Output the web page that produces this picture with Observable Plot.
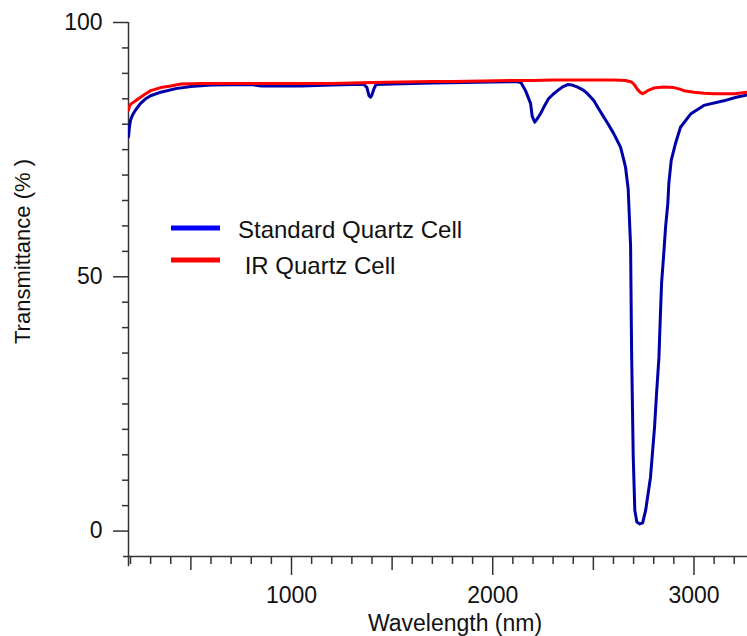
<!DOCTYPE html>
<html><head><meta charset="utf-8">
<script src="https://cdn.jsdelivr.net/npm/d3@7"></script>
<script src="https://cdn.jsdelivr.net/npm/@observablehq/plot@0.6"></script>
<style>
body{margin:0;background:#fff;}
#chart{position:relative;width:747px;height:636px;overflow:hidden;}
</style></head><body><div id="chart"></div>
<script>
// Standard Quartz Cell
const stdWavelength = [190,193,196,200,210,225,250,275,300,350,425,500,600,800,850,1050,1200,1300,1360,1375,1385,1393,1400,1410,1420,1500,1700,2000,2120,2140,2163,2188,2196,2209,2220,2238,2257,2277,2300,2322,2350,2372,2395,2422,2450,2471,2503,2521,2552,2571,2602,2635,2650,2660,2673,2685,2690,2698,2706,2716,2731,2745,2760,2784,2804,2814,2826,2831,2839,2850,2859,2870,2875,2887,2908,2933,2983,3049,3148,3210,3270];
const stdTransmittance = [77.5,78.8,79.8,80.8,81.8,82.8,84.1,85.0,85.6,86.3,87.0,87.4,87.7,87.8,87.5,87.5,87.7,87.8,87.8,87.2,85.6,85.3,85.8,87.0,87.8,87.9,88.1,88.3,88.4,88.2,86.6,84.1,81.6,80.4,81.0,82.1,83.6,85.0,85.9,86.6,87.4,87.8,87.7,87.3,86.7,86.0,84.6,83.4,81.4,80.2,78.1,75.5,73.2,71.5,67.3,56.1,35.5,14.9,4.1,1.8,1.4,1.6,4.1,10.6,20.4,27.0,34.2,40.1,48.7,54.6,59.8,64.4,68.3,72.9,76.2,79.4,82.0,83.7,84.6,85.3,85.8];

// IR Quartz Cell
const irWavelength = [190,195,200,225,250,275,300,350,400,450,550,700,850,1050,1200,1300,1400,1550,1700,1800,1950,2100,2200,2300,2400,2500,2600,2660,2690,2705,2720,2735,2745,2760,2770,2800,2850,2900,2930,2950,3000,3050,3100,3200,3270];
const irTransmittance = [82.8,83.6,83.9,84.6,85.3,86.0,86.6,87.2,87.5,87.9,88.0,88.0,88.0,88.0,88.0,88.1,88.2,88.3,88.4,88.4,88.5,88.6,88.6,88.7,88.7,88.7,88.7,88.6,88.3,87.7,86.8,86.2,86.0,86.3,86.6,87.1,87.3,87.2,86.9,86.6,86.3,86.1,86.0,86.0,86.3];

const seriesNames = ["Standard Quartz Cell", " IR Quartz Cell"];
const seriesColors = ["#0000a8", "#ff0000"];
const legendColors = ["#0000ff", "#ff0000"];

const xMajorTicks = [1000, 2000, 3000];
const xMediumTicks = [500, 1500, 2500];
const xMinorTicks = [200,300,400,600,700,800,900,1100,1200,1300,1400,1600,1700,1800,1900,2100,2200,2300,2400,2600,2700,2800,2900,3100,3200];
const yMajorTicks = [0, 50, 100];
const yMinorTicks = [5,10,15,20,25,30,35,40,45,55,60,65,70,75,80,85,90,95];

const xLabel = "Wavelength (nm)";
const yLabel = "Transmittance (% )";

const stdData = stdWavelength.map((w, i) => ({w, t: stdTransmittance[i]}));
const irData = irWavelength.map((w, i) => ({w, t: irTransmittance[i]}));

const axisColor = "#333";
const font = "'Liberation Sans', Arial, Helvetica, sans-serif";

const plot = Plot.plot({
  width: 747, height: 636,
  marginLeft: 128, marginRight: 0, marginTop: 22, marginBottom: 80,
  style: {fontFamily: font, background: "#fff", color: "#000", overflow: "visible"},
  x: {domain: [190, 3266]},
  y: {domain: [-5, 100]},
  marks: [
    Plot.axisX({ticks: xMinorTicks, tickSize: 8, fill: "none", label: null, stroke: axisColor, strokeWidth: 1.5}),
    Plot.axisX({ticks: xMediumTicks, tickSize: 14, fill: "none", label: null, stroke: axisColor, strokeWidth: 1.5}),
    Plot.axisX({ticks: xMajorTicks, tickSize: 19, tickPadding: 11, fontSize: 23, label: null, stroke: axisColor, strokeWidth: 1.5, fill: "#111", tickFormat: d => String(d)}),
    Plot.axisY({ticks: yMinorTicks, tickSize: 6, fill: "none", label: null, stroke: axisColor, strokeWidth: 1.5}),
    Plot.axisY({ticks: yMajorTicks, tickSize: 15, tickPadding: 11, fontSize: 23, label: null, stroke: axisColor, strokeWidth: 1.5, fill: "#111", tickFormat: d => String(d)}),
    Plot.ruleY([-5], {x1: 165, x2: 3266, stroke: axisColor, strokeWidth: 1.5}),
    Plot.ruleX([190], {y1: -7, y2: 100, stroke: axisColor, strokeWidth: 1.5}),
    Plot.line(stdData, {x: "w", y: "t", stroke: seriesColors[0], strokeWidth: 3, clip: true}),
    Plot.line(irData, {x: "w", y: "t", stroke: seriesColors[1], strokeWidth: 3, clip: true}),
    Plot.text([xLabel], {frameAnchor: "bottom", textAnchor: "middle", lineAnchor: "middle", dx: 17, dy: 67, fontSize: 23, fill: "#111"}),
    Plot.text([yLabel], {frameAnchor: "left", textAnchor: "middle", lineAnchor: "middle", dx: -106, dy: -38, rotate: -90, fontSize: 22, fill: "#111"})
  ]
});

document.getElementById("chart").appendChild(plot);

// Legend
const svg = d3.select(plot);
const lg = svg.append("g").attr("font-family", font).attr("font-size", 24).attr("text-anchor", "start");
const rowLineY = [228, 260];
const rowTextY = [238, 274];
seriesNames.forEach((name, i) => {
  lg.append("line").attr("x1", 171).attr("x2", 220).attr("y1", rowLineY[i]).attr("y2", rowLineY[i])
    .attr("stroke", legendColors[i]).attr("stroke-width", 5);
  lg.append("text").attr("x", 238).attr("y", rowTextY[i]).attr("fill", "#111")
    .style("white-space", "pre").text(name);
});
</script>
</body></html>
